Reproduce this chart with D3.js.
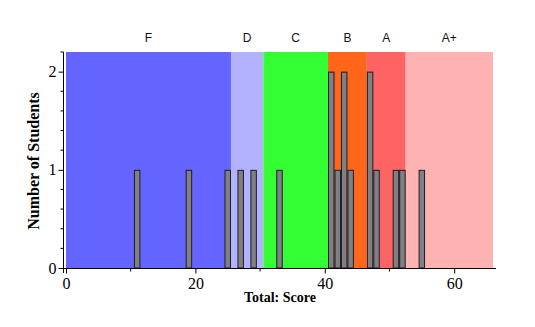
<!DOCTYPE html>
<html>
<head>
<meta charset="utf-8">
<script src="https://cdn.jsdelivr.net/npm/d3@7"></script>
<style>
  html, body { margin: 0; padding: 0; background: #fff; }
  svg { display: block; }
</style>
</head>
<body>
<svg id="chart" width="535" height="327"></svg>
<script>
// ---- data ----
const scores = [11, 19, 25, 27, 29, 33, 41, 42, 43, 44, 47, 48, 51, 52, 55];
const counts = [1, 1, 1, 1, 1, 1, 2, 1, 2, 1, 2, 1, 1, 1, 1];
const grades = ["F", "D", "C", "B", "A", "A+"];
const gradeStart = [0, 25.5, 30.5, 40.5, 46.5, 52.5];
const gradeEnd = [25.5, 30.5, 40.5, 46.5, 52.5, 66];
const gradeColors = ["#6464ff", "#b2b2ff", "#33ff33", "#ff6619", "#ff6464", "#ffb2b2"];
const xTicks = [0, 20, 40, 60];
const xMinorTicks = [10, 30, 50];
const yTicks = [0, 1, 2];
const yMinorTicks = [0.2, 0.4, 0.6, 0.8, 1.2, 1.4, 1.6, 1.8, 2.2];
const xTitle = "Total: Score";
const yTitle = "Number of Students";

// ---- layout ----
const svg = d3.select("#chart");
const x = d3.scaleLinear().domain([0, 66]).range([66, 493]);
const y = d3.scaleLinear().domain([0, 2.2]).range([268, 52]);
const binW = 1;

// grade bands
const bands = grades.map((g, i) => ({ g, s: gradeStart[i], e: gradeEnd[i], c: gradeColors[i] }));
svg.append("g").selectAll("rect").data(bands).join("rect")
  .attr("x", d => x(d.s))
  .attr("y", y(2.2))
  .attr("width", d => x(d.e) - x(d.s))
  .attr("height", y(0) - y(2.2))
  .attr("fill", d => d.c);

svg.append("g").selectAll("text").data(bands).join("text")
  .attr("x", d => x((d.s + d.e) / 2))
  .attr("y", 42)
  .attr("text-anchor", "middle")
  .attr("font-family", "Liberation Sans, Arial, sans-serif")
  .attr("font-size", 12)
  .attr("fill", "#111")
  .text(d => d.g);

// bars
const bars = scores.map((s, i) => ({ s, c: counts[i] }));
svg.append("g").selectAll("rect").data(bars).join("rect")
  .attr("x", d => x(d.s - binW / 2) + 0.5)
  .attr("y", d => y(d.c) + 0.5)
  .attr("width", d => x(d.s + binW / 2) - x(d.s - binW / 2) - 1)
  .attr("height", d => y(0) - y(d.c) - 0.5)
  .attr("fill", "#808080")
  .attr("stroke", "#1c1c2e")
  .attr("stroke-width", 1);

// axes
const xAxis = svg.append("g").attr("transform", "translate(0,268.5)");
xAxis.call(d3.axisBottom(x).tickValues(xTicks).tickFormat(d3.format("d")).tickSize(5).tickSizeOuter(0));
xAxis.selectAll("line.minor").data(xMinorTicks).join("line")
  .attr("class", "minor")
  .attr("x1", d => x(d)).attr("x2", d => x(d))
  .attr("y1", 0).attr("y2", 3).attr("stroke", "#000");
xAxis.select(".domain").attr("d", `M${x(0) - 2.5},0H${x(66) + 3}`);
xAxis.selectAll(".tick text")
  .attr("font-family", "Liberation Serif, Times New Roman, serif")
  .attr("font-size", 16)
  .attr("fill", "#000")
  .attr("dy", "0.8em");

const yAxis = svg.append("g").attr("transform", "translate(63.5,0)");
yAxis.call(d3.axisLeft(y).tickValues(yTicks).tickFormat(d3.format("d")).tickSize(5).tickSizeOuter(0));
yAxis.selectAll("line.minor").data(yMinorTicks).join("line")
  .attr("class", "minor")
  .attr("x1", 0).attr("x2", -3)
  .attr("y1", d => y(d)).attr("y2", d => y(d))
  .attr("stroke", "#000");
yAxis.select(".domain").attr("d", `M0,${y(2.2)}V${y(0) + 5}`);
yAxis.selectAll(".tick text")
  .attr("font-family", "Liberation Serif, Times New Roman, serif")
  .attr("font-size", 16)
  .attr("fill", "#000")
  .attr("x", -7);

// titles
svg.append("text")
  .attr("x", 280).attr("y", 302)
  .attr("text-anchor", "middle")
  .attr("font-family", "Liberation Serif, Times New Roman, serif")
  .attr("font-weight", "bold")
  .attr("font-size", 14)
  .text(xTitle);

svg.append("text")
  .attr("transform", "translate(39,161) rotate(-90)")
  .attr("text-anchor", "middle")
  .attr("font-family", "Liberation Serif, Times New Roman, serif")
  .attr("font-weight", "bold")
  .attr("font-size", 16)
  .text(yTitle);
</script>
</body>
</html>
